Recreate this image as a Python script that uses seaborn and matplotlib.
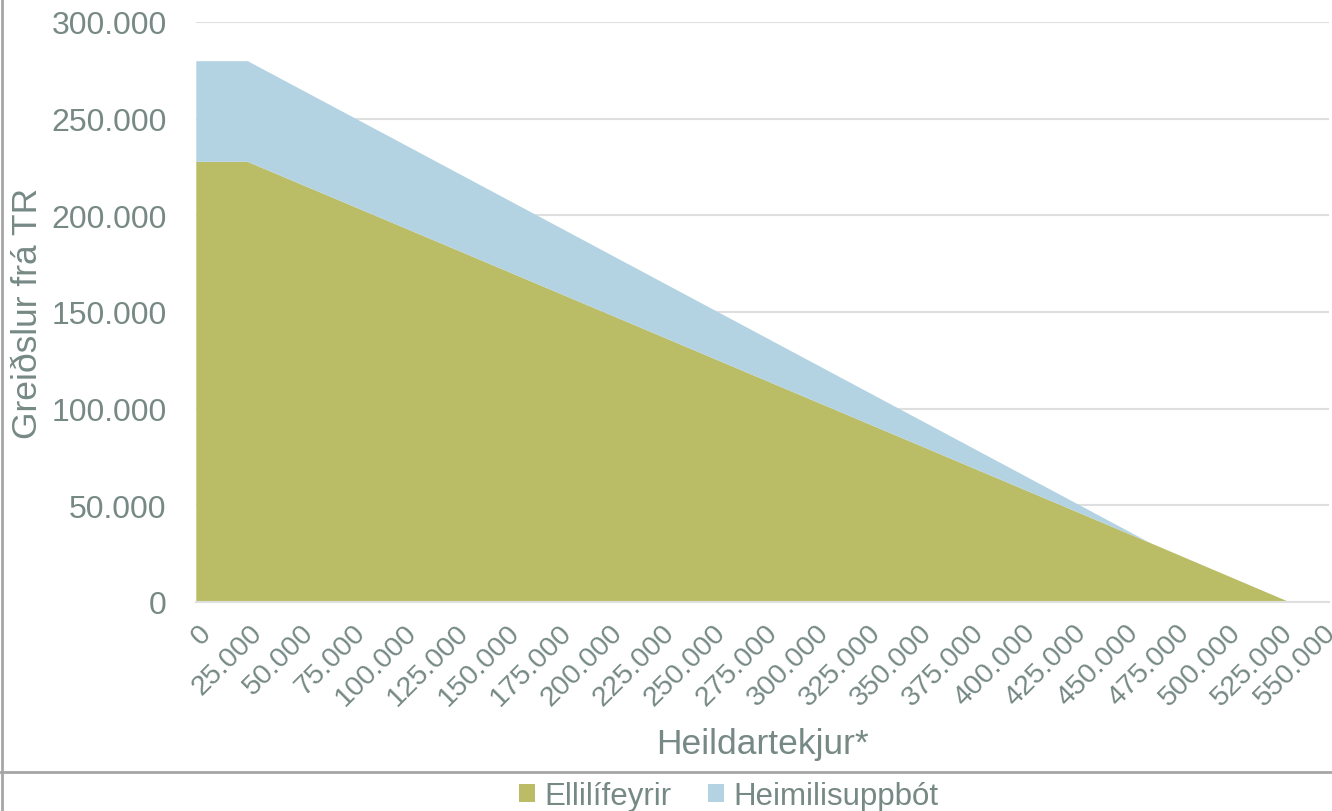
import numpy as np
import pandas as pd
import matplotlib
matplotlib.use('Agg')
import matplotlib.pyplot as plt
import matplotlib.transforms as mtransforms
import seaborn as sns
from matplotlib.ticker import FuncFormatter
from matplotlib.patches import Patch
from matplotlib.lines import Line2D

# Data (kr. per month)
heildartekjur = [0, 25000, 100000, 200000, 300000, 400000, 463000, 531000, 550000]
ellilifeyrir = [227900, 227900, 194200, 149200, 104200, 59200, 30800, 0, 0]
heimilisuppbot = [52100, 52100, 43200, 31300, 19400, 7500, 0, 0, 0]

series_names = ['Ellilífeyrir', 'Heimilisuppbót']
x_ticks = list(range(0, 550001, 25000))
y_ticks = list(range(0, 300001, 50000))

GREEN = '#BBBD66'
BLUE = '#B3D3E3'
TEXT = '#768985'
GRID = '#DDE0DF'
FRAME = '#A6A6A6'

sns.set_theme(style='white')
plt.rcParams['font.family'] = ['Liberation Sans', 'DejaVu Sans']

df = pd.DataFrame({'x': heildartekjur, series_names[0]: ellilifeyrir,
                   series_names[1]: heimilisuppbot})

fig = plt.figure(figsize=(13.32, 8.12), dpi=100)
ax = fig.add_axes([0.147, 0.2574, 0.8507, 0.7143])

ax.stackplot(df['x'], df[series_names[0]], df[series_names[1]],
             colors=[GREEN, BLUE], linewidth=0)

ax.set_xlim(0, 550000)
ax.set_ylim(0, 300000)
ax.set_xticks(x_ticks)
ax.set_yticks(y_ticks)

fmt = FuncFormatter(lambda v, p: f'{int(v):,}'.replace(',', '.'))
ax.xaxis.set_major_formatter(fmt)
ax.yaxis.set_major_formatter(fmt)

ax.yaxis.grid(True, color=GRID, linewidth=1.5)
ax.set_axisbelow(True)
for s in ['top', 'right', 'left']:
    ax.spines[s].set_visible(False)
ax.spines['bottom'].set_color(GRID)
ax.spines['bottom'].set_linewidth(1.5)

ax.tick_params(axis='y', length=0, pad=21, labelsize=23, labelcolor=TEXT)
ax.tick_params(axis='x', length=5, width=1.5, color=GRID, direction='out',
               pad=6, labelsize=20.5, labelcolor=TEXT)
# Excel puts the rotated labels a touch to the right of the tick
shift = mtransforms.ScaledTranslation(0.02, -0.02, fig.dpi_scale_trans)
edge = mtransforms.ScaledTranslation(-0.06, -0.02, fig.dpi_scale_trans)
xlabels = ax.get_xticklabels()
for i, lab in enumerate(xlabels):
    lab.set_rotation(45)
    lab.set_ha('right')
    lab.set_va('top')
    lab.set_rotation_mode('anchor')
    # keep the last label inside the picture
    lab.set_transform(lab.get_transform() + (edge if i == len(xlabels) - 1 else shift))

ax.set_ylabel('Greiðslur frá TR', fontsize=25.5, color=TEXT, labelpad=5)
ax.set_xlabel('Heildartekjur*', fontsize=25.5, color=TEXT, labelpad=12)

handles = [Patch(facecolor=GREEN, edgecolor='none', label=series_names[0]),
           Patch(facecolor=BLUE, edgecolor='none', label=series_names[1])]
leg = fig.legend(handles=handles, loc='center', bbox_to_anchor=(0.547, 0.0185),
                 ncol=2, frameon=False, fontsize=22.5, handlelength=0.54,
                 handleheight=0.54, handletextpad=0.29, columnspacing=1.15,
                 borderpad=0, borderaxespad=0)
for t in leg.get_texts():
    t.set_color(TEXT)

# frame lines of the original chart box
fig.add_artist(Line2D([0.0015, 0.0015], [0, 1], transform=fig.transFigure,
                      color=FRAME, linewidth=2))
fig.add_artist(Line2D([0, 1], [1 - 773 / 812, 1 - 773 / 812],
                      transform=fig.transFigure, color=FRAME, linewidth=2))

fig.savefig('out.png', dpi=100)
